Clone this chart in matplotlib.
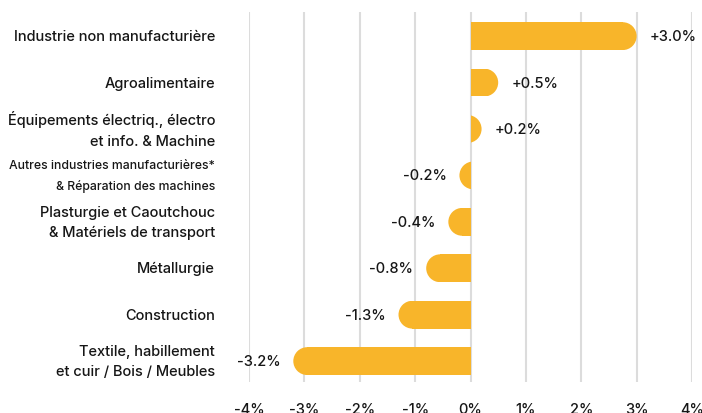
import matplotlib.pyplot as plt
from matplotlib.patches import Ellipse, Rectangle

categories = [
    "Industrie non manufacturière",
    "Agroalimentaire",
    "Équipements électriq., électro\net info. & Machine",
    "Autres industries manufacturières*\n& Réparation des machines",
    "Plasturgie et Caoutchouc\n& Matériels de transport",
    "Métallurgie",
    "Construction",
    "Textile, habillement\net cuir / Bois / Meubles",
]
values = [3.0, 0.5, 0.2, -0.2, -0.4, -0.8, -1.3, -3.2]
ticks = [-4, -3, -2, -1, 0, 1, 2, 3, 4]
tick_labels = ["-4%", "-3%", "-2%", "-1%", "0%", "1%", "2%", "3%", "4%"]

BAR = "#F8B52A"
TEXT = "#161616"
GRID = "#DCDCDC"


def rounded_bar(ax, y, v, hh):
    # flat end at zero, round cap on the outer end (semicircle in pixels)
    p0 = ax.transData.transform((0, 0))
    px_x = ax.transData.transform((1, 0))[0] - p0[0]
    px_y = abs(ax.transData.transform((0, 1))[1] - p0[1])
    rx = hh * px_y / px_x
    s = 1 if v >= 0 else -1
    clip = Rectangle((0, y - hh), s * 10, 2 * hh, transform=ax.transData)
    if abs(v) > rx:
        body = Rectangle((0, y - hh), v - s * rx, 2 * hh, color=BAR, lw=0, zorder=3)
        ax.add_patch(body)
    cap = Ellipse((v - s * rx, y), 2 * rx, 2 * hh, color=BAR, lw=0, zorder=3)
    ax.add_patch(cap)
    cap.set_clip_path(clip)
    return rx


def main() -> None:
    plt.rcParams["font.family"] = ["Inter", "DejaVu Sans"]
    plt.rcParams["font.weight"] = "medium"
    fig = plt.figure(figsize=(7.02, 4.14), dpi=100)
    ax = fig.add_axes([249 / 702, 1 - 383 / 414, 443 / 702, 370 / 414])

    ax.set_xlim(-4, 4)
    ax.set_ylim(len(categories) - 1 + 0.45, -0.52)
    for s in ax.spines.values():
        s.set_visible(False)
    ax.set_yticks([])
    ax.set_xticks(ticks)
    ax.set_xticklabels(tick_labels, fontsize=10.5, color=TEXT)
    ax.tick_params(axis="x", length=0, pad=14.5)
    for t in ticks:
        ax.axvline(t, color=GRID, lw=1.5, zorder=1)

    hh = 0.3
    px_x = 443 / 8
    gap = 13 / px_x
    for i, (cat, v) in enumerate(zip(categories, values)):
        rounded_bar(ax, i, v, hh)
        if v >= 0:
            ax.text(v + gap, i, f"{v:+.1f}%", ha="left", va="center",
                    fontsize=10.5, color=TEXT)
        else:
            ax.text(v - gap, i, f"{v:+.1f}%", ha="right", va="center",
                    fontsize=10.5, color=TEXT)
        small = cat.startswith("Autres")
        ax.text(-34 / 443, i, cat, transform=ax.get_yaxis_transform(),
                ha="right", va="center", ma="right",
                fontsize=8.8 if small else 10.5, color=TEXT,
                linespacing=1.85 if small else 1.55)

    fig.savefig("out.png", dpi=100)
    plt.close(fig)


if __name__ == "__main__":
    main()
